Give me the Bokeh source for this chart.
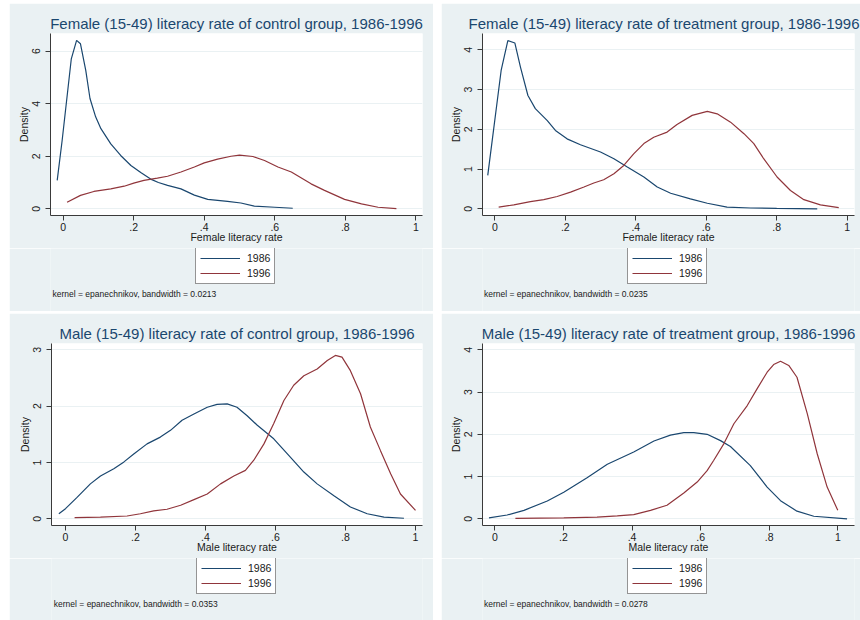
from bokeh.plotting import figure
from bokeh.layouts import row, column
from bokeh.models import Legend, LegendItem, Label, FixedTicker, Range1d
from bokeh.embed import file_html
from bokeh.resources import INLINE

FONT = "Liberation Sans"
BG = "#EAF1F3"
NAVY = "#1A476F"
MAROON = "#90353B"
INK = "#1a1a1a"

# ---------------- data ----------------
years = ["1986", "1996"]

titles = [
    "Female (15-49) literacy rate of control group, 1986-1996",
    "Female (15-49) literacy rate of treatment group, 1986-1996",
    "Male (15-49) literacy rate of control group, 1986-1996",
    "Male (15-49) literacy rate of treatment group, 1986-1996",
]
xlabels = ["Female literacy rate", "Female literacy rate", "Male literacy rate", "Male literacy rate"]
bandwidths = ["0.0213", "0.0235", "0.0353", "0.0278"]

x_ticks = [0, 0.2, 0.4, 0.6, 0.8, 1.0]
x_tick_labels = ["0", ".2", ".4", ".6", ".8", "1"]
y_ticks_fc = [0, 2, 4, 6]
y_ticks_ft = [0, 1, 2, 3, 4]
y_ticks_mc = [0, 1, 2, 3]
y_ticks_mt = [0, 1, 2, 3, 4]

# Female, control
fc_x_1986 = [-0.017, -0.003, 0.023, 0.038, 0.049, 0.064, 0.076, 0.092, 0.107, 0.135, 0.163, 0.192,
             0.22, 0.248, 0.27, 0.296, 0.334, 0.372, 0.41, 0.466, 0.504, 0.542, 0.6, 0.651]
fc_y_1986 = [1.08, 2.6, 5.71, 6.41, 6.28, 5.27, 4.2, 3.5, 3.05, 2.47, 2.03, 1.65,
             1.38, 1.13, 1.0, 0.89, 0.76, 0.52, 0.36, 0.28, 0.22, 0.10, 0.06, 0.02]
fc_x_1996 = [0.011, 0.049, 0.087, 0.135, 0.173, 0.2, 0.229, 0.267, 0.296, 0.334, 0.372, 0.4, 0.438,
             0.476, 0.5, 0.538, 0.571, 0.609, 0.647, 0.703, 0.741, 0.798, 0.846, 0.893, 0.945]
fc_y_1996 = [0.25, 0.51, 0.66, 0.76, 0.86, 0.98, 1.08, 1.17, 1.24, 1.40, 1.59, 1.75, 1.89,
             2.0, 2.04, 1.99, 1.84, 1.59, 1.40, 0.95, 0.70, 0.36, 0.19, 0.06, 0.01]

# Female, treatment
ft_x_1986 = [-0.02, 0.018, 0.037, 0.057, 0.073, 0.094, 0.115, 0.149, 0.172, 0.205, 0.243, 0.3,
             0.338, 0.376, 0.423, 0.461, 0.499, 0.555, 0.603, 0.659, 0.726, 0.8, 0.915]
ft_y_1986 = [0.84, 3.48, 4.23, 4.17, 3.56, 2.85, 2.52, 2.22, 1.97, 1.76, 1.61, 1.43,
             1.26, 1.05, 0.80, 0.55, 0.39, 0.25, 0.14, 0.04, 0.02, 0.01, 0.0]
ft_x_1996 = [0.011, 0.054, 0.101, 0.139, 0.177, 0.215, 0.253, 0.281, 0.309, 0.338, 0.366, 0.394,
             0.423, 0.451, 0.489, 0.517, 0.56, 0.603, 0.631, 0.669, 0.707, 0.735, 0.763, 0.801,
             0.839, 0.877, 0.924, 0.976]
ft_y_1996 = [0.04, 0.10, 0.18, 0.23, 0.31, 0.42, 0.55, 0.65, 0.73, 0.88, 1.09, 1.38,
             1.64, 1.80, 1.93, 2.12, 2.35, 2.45, 2.39, 2.18, 1.89, 1.64, 1.26, 0.80,
             0.46, 0.23, 0.10, 0.03]

# Male, control
mc_x_1986 = [-0.019, 0.0, 0.033, 0.071, 0.1, 0.138, 0.167, 0.195, 0.233, 0.271, 0.3, 0.333, 0.367,
             0.405, 0.433, 0.462, 0.49, 0.519, 0.548, 0.595, 0.643, 0.681, 0.719, 0.767, 0.814,
             0.862, 0.91, 0.967]
mc_y_1986 = [0.09, 0.18, 0.38, 0.62, 0.76, 0.89, 1.01, 1.15, 1.33, 1.45, 1.57, 1.75, 1.86,
             1.98, 2.03, 2.04, 1.98, 1.83, 1.66, 1.42, 1.09, 0.83, 0.62, 0.41, 0.21,
             0.09, 0.03, 0.01]
mc_x_1996 = [0.026, 0.1, 0.176, 0.214, 0.252, 0.29, 0.329, 0.367, 0.405, 0.443, 0.481, 0.514,
             0.538, 0.567, 0.595, 0.624, 0.652, 0.681, 0.719, 0.748, 0.771, 0.79, 0.814, 0.843,
             0.871, 0.9, 0.929, 0.957, 1.0]
mc_y_1996 = [0.02, 0.03, 0.05, 0.09, 0.14, 0.17, 0.24, 0.34, 0.44, 0.62, 0.76, 0.86,
             1.04, 1.33, 1.69, 2.1, 2.37, 2.54, 2.66, 2.81, 2.90, 2.87, 2.63, 2.22,
             1.63, 1.21, 0.80, 0.44, 0.15]

# Male, treatment
mt_x_1986 = [-0.017, 0.036, 0.085, 0.153, 0.201, 0.269, 0.328, 0.405, 0.464, 0.512, 0.551, 0.58,
             0.619, 0.658, 0.687, 0.745, 0.794, 0.833, 0.881, 0.93, 1.027]
mt_y_1986 = [0.02, 0.09, 0.2, 0.42, 0.63, 0.97, 1.29, 1.58, 1.84, 1.98, 2.04, 2.04,
             2.0, 1.85, 1.71, 1.26, 0.75, 0.43, 0.18, 0.06, 0.0]
mt_x_1996 = [0.06, 0.201, 0.298, 0.357, 0.405, 0.454, 0.502, 0.551, 0.59, 0.619, 0.638, 0.668,
             0.697, 0.736, 0.765, 0.794, 0.813, 0.833, 0.857, 0.881, 0.911, 0.94, 0.969, 1.0]
mt_y_1996 = [0.01, 0.02, 0.04, 0.07, 0.10, 0.2, 0.32, 0.61, 0.87, 1.14, 1.38, 1.78,
             2.25, 2.68, 3.08, 3.47, 3.65, 3.73, 3.63, 3.35, 2.49, 1.54, 0.75, 0.2]


def make_panel(title, xlabel, bw, x86, y86, x96, y96, xr, yr, yticks,
               width, main_h, foot_h, left, right, top, bottom,
               legend_xy, note_xy, title_align="center", title_offset=0):
    p = figure(width=width, height=main_h,
               x_range=Range1d(*xr), y_range=Range1d(*yr),
               output_backend="svg", toolbar_location=None,
               min_border_left=left, min_border_right=right,
               min_border_top=top, min_border_bottom=bottom)
    p.border_fill_color = BG
    p.background_fill_color = "white"
    p.outline_line_color = None

    p.title.text = title
    p.title.align = title_align
    p.title.text_font = FONT
    p.title.text_font_size = "15px"
    p.title.text_font_style = "normal"
    p.title.text_color = NAVY
    p.title.standoff = 4
    p.title.offset = title_offset

    p.xgrid.visible = False
    p.ygrid.grid_line_color = BG
    p.ygrid.grid_line_width = 1
    p.ygrid.ticker = FixedTicker(ticks=yticks)

    for ax in (p.xaxis[0], p.yaxis[0]):
        ax.axis_line_color = "#3a3a3a"
        ax.axis_line_width = 1
        ax.major_tick_line_color = "#3a3a3a"
        ax.major_tick_out = 5
        ax.major_tick_in = 0
        ax.minor_tick_line_color = None
        ax.major_label_text_font = FONT
        ax.major_label_text_font_size = "10.5px"
        ax.major_label_text_color = INK
        ax.axis_label_text_font = FONT
        ax.axis_label_text_font_size = "10.5px"
        ax.axis_label_text_font_style = "normal"
        ax.axis_label_text_color = INK

    p.xaxis.ticker = FixedTicker(ticks=x_ticks)
    p.xaxis.major_label_overrides = {t: l for t, l in zip(x_ticks, x_tick_labels)}
    p.xaxis.major_label_standoff = 2
    p.xaxis.axis_label = xlabel
    p.xaxis.axis_label_standoff = -3

    p.yaxis.ticker = FixedTicker(ticks=yticks)
    p.yaxis.major_label_orientation = "vertical"
    p.yaxis.major_label_standoff = 5
    p.yaxis.axis_label = "Density"
    p.yaxis.axis_label_standoff = 0

    p.line(x86, y86, line_color=NAVY, line_width=1.2)
    p.line(x96, y96, line_color=MAROON, line_width=1.2)

    # footer (its frame lines up with the plot frame above): legend box and kernel note,
    # in pixel-sized data units measured from the frame's bottom-left corner
    frame_w = width - left - right
    f = figure(width=width, height=foot_h,
               x_range=Range1d(0, frame_w), y_range=Range1d(0, foot_h),
               output_backend="svg", toolbar_location=None,
               min_border=0, min_border_left=left, min_border_right=right,
               min_border_top=0, min_border_bottom=0)
    f.axis.visible = False
    f.grid.visible = False
    f.outline_line_color = None
    f.border_fill_color = BG
    f.background_fill_color = BG

    # the same two series on ranges of their own that keep them out of the footer's view,
    # so that the legend has line renderers with data to draw its keys from
    f.extra_x_ranges = {"curve_x": Range1d(*xr)}
    f.extra_y_ranges = {"curve_y": Range1d(yr[1] + 50, yr[1] + 60)}
    k86 = f.line(x86, y86, line_color=NAVY, line_width=1.2,
                 x_range_name="curve_x", y_range_name="curve_y")
    k96 = f.line(x96, y96, line_color=MAROON, line_width=1.2,
                 x_range_name="curve_x", y_range_name="curve_y")
    legend = Legend(items=[LegendItem(label=years[0], renderers=[k86]),
                           LegendItem(label=years[1], renderers=[k96])],
                    location=legend_xy, orientation="vertical")
    legend.border_line_color = "#2a2a2a"
    legend.border_line_width = 1
    legend.background_fill_color = "white"
    legend.background_fill_alpha = 1
    legend.label_text_font = FONT
    legend.label_text_font_size = "10.5px"
    legend.label_text_color = INK
    legend.glyph_width = 40
    legend.glyph_height = 12
    legend.label_height = 12
    legend.label_standoff = 7
    legend.padding = 4
    legend.spacing = 3
    legend.margin = 0
    f.add_layout(legend, "center")

    note = Label(x=note_xy[0], y=note_xy[1],
                 text="kernel = epanechnikov, bandwidth = " + bw,
                 text_font=FONT, text_font_size="8.5px", text_color=INK,
                 text_baseline="middle", text_align="left")
    f.add_layout(note)
    return column(p, f, spacing=0)


p1 = make_panel(titles[0], xlabels[0], bandwidths[0], fc_x_1986, fc_y_1986, fc_x_1996, fc_y_1996,
                (-0.036, 1.019), (-0.255, 6.673), y_ticks_fc, 424, 245, 63, 41, 11, 30, 33,
                (145, 27), (2, 18))
p2 = make_panel(titles[1], xlabels[1], bandwidths[1], ft_x_1986, ft_y_1986, ft_x_1996, ft_y_1996,
                (-0.0349, 1.0207), (-0.1686, 4.410), y_ticks_ft, 419, 245, 63, 41, 6, 30, 33,
                (145, 27), (1.5, 18), title_align="left", title_offset=-14)
p3 = make_panel(titles[2], xlabels[2], bandwidths[2], mc_x_1986, mc_y_1986, mc_x_1996, mc_y_1996,
                (-0.04, 1.02), (-0.119, 3.112), y_ticks_mc, 424, 245, 62, 42, 11, 30, 33,
                (145, 26), (2.3, 17))
p4 = make_panel(titles[3], xlabels[3], bandwidths[3], mt_x_1986, mt_y_1986, mt_x_1996, mt_y_1996,
                (-0.0359, 1.0487), (-0.1586, 4.149), y_ticks_mt, 419, 245, 62, 41, 6, 30, 33,
                (145, 26), (1.5, 17))

layout = column(row(p1, p2, spacing=8), row(p3, p4, spacing=8), spacing=2,
                margin=(3, 0, 0, 9))

open("out.html", "w").write(file_html(layout, INLINE))
